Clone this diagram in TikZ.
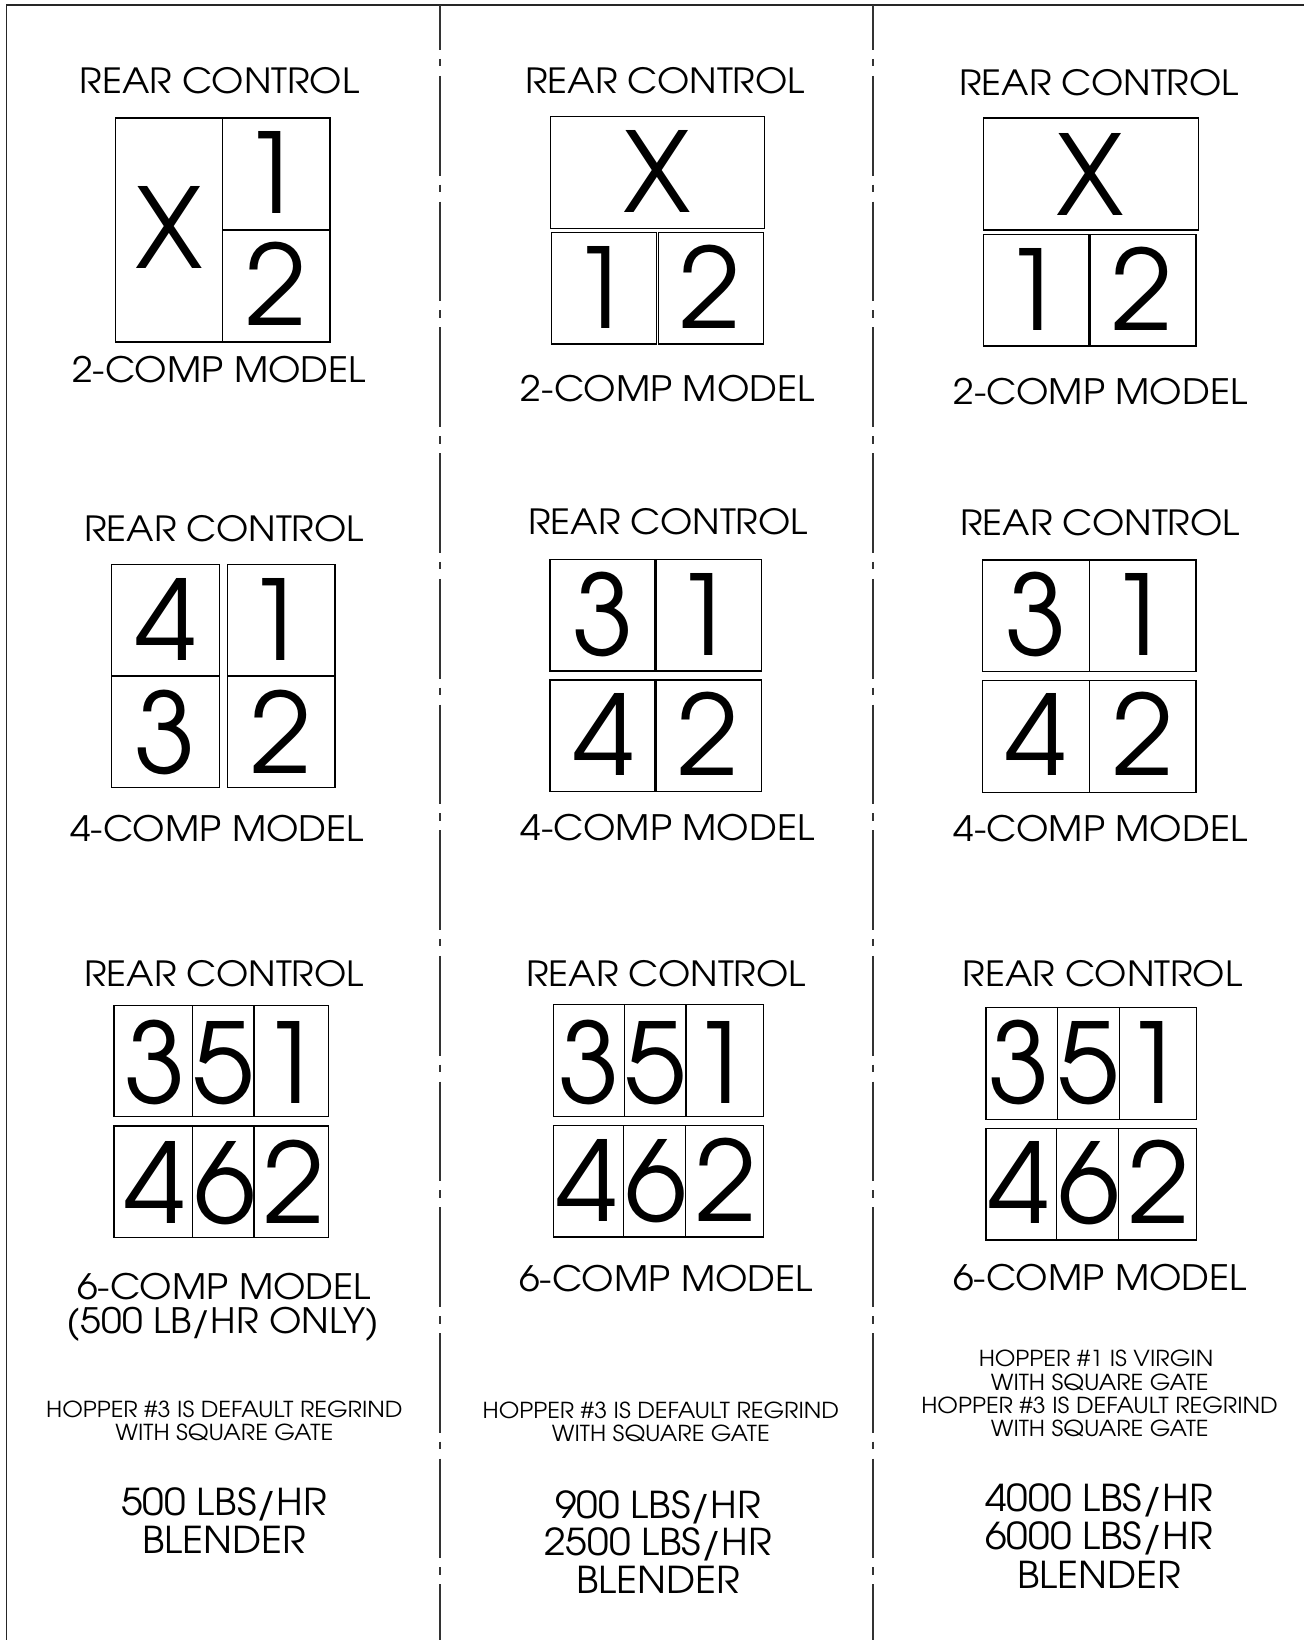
\documentclass[tikz,border=0pt]{standalone}
\usepackage{fontspec}
\usepackage{graphicx}
\IfFontExistsTF{TeX Gyre Adventor}{%
  \setmainfont{TeX Gyre Adventor}%
  \def\sxa{1.07}\def\sxm{1.066}\def\sxs{1.075}\def\sxb{1.055}\def\digsz{111}}{%
  \IfFontExistsTF{Poppins Light}{\setmainfont{Poppins Light}}{\setmainfont{Poppins}}%
  \def\sxa{1.10}\def\sxm{1.095}\def\sxs{1.06}\def\sxb{1.0}\def\digsz{115}}
\newcommand{\wa}[1]{\scalebox{\sxa}[1]{#1}}
\newcommand{\wm}[1]{\scalebox{\sxm}[1]{#1}}
\newcommand{\ws}[1]{\scalebox{\sxs}[1]{#1}}
\newcommand{\wb}[1]{\scalebox{\sxb}[1]{#1}}
\begin{document}
\begin{tikzpicture}[x=1pt,y=-1pt,
  lbl/.style={inner sep=0pt, anchor=base, font=\fontsize{34.7}{40}\selectfont},
  mdl/.style={inner sep=0pt, anchor=base, font=\fontsize{35}{40}\selectfont},
  sml/.style={inner sep=0pt, anchor=base, font=\fontsize{22}{24}\selectfont},
  big/.style={inner sep=0pt, anchor=base, font=\fontsize{37}{40}\selectfont},
  dig/.style={inner sep=0pt, anchor=base, font=\fontsize{\digsz}{120}\selectfont},
  cellline/.style={draw=black, line width=1.1pt},
  border/.style={draw=black!85, line width=1.3pt},
  centerline/.style={draw=black!80, line width=1.2pt,
    dash pattern=on 99.7pt off 9pt on 7.5pt off 9.5pt, dash phase=54.7pt}]
\useasboundingbox (0,0) rectangle (1304,1640);
\fill[white] (0,0) rectangle (1304,1640);
% frame
\coordinate (tl) at (6.7,5);
\coordinate (tr) at (1304,5);
\coordinate (bl) at (6.7,1640);
\draw[border] (bl) -- (tl) -- (tr);
\coordinate (d1t) at (440,5);
\coordinate (d1b) at (440,1640);
\coordinate (d2t) at (873,5);
\coordinate (d2b) at (873,1640);
\draw[centerline] (d1t) -- (d1b);
\draw[centerline] (d2t) -- (d2b);

% ---------- Row 1 ----------
% col 1
\node[lbl] (a1t) at (219.5,94) {\wa{REAR CONTROL}};
\draw[cellline] (115.3,118) rectangle (222.3,342);
\draw[cellline] (222.3,118) rectangle (330,230);
\draw[cellline] (222.3,230) rectangle (330,342);
\node[dig] (a1x) at (169,268.3) {X};
\node[dig] (a1d1) at (272,213) {1};
\node[dig] (a1d2) at (276.7,325) {2};
\node[mdl] (a1m) at (219,382) {\wm{2-COMP MODEL}};
% col 2
\node[lbl] (b1t) at (665,94) {\wa{REAR CONTROL}};
\draw[cellline] (550.3,116.7) rectangle (764.3,228.3);
\draw[cellline] (551.3,232.7) rectangle (656.3,344);
\draw[cellline] (658.3,232.7) rectangle (763.3,344);
\node[dig] (b1x) at (657.5,212.3) {X};
\node[dig] (b1d1) at (600.8,328) {1};
\node[dig] (b1d2) at (710,328.3) {2};
\node[mdl] (b1m) at (667.7,401) {\wm{2-COMP MODEL}};
% col 3
\node[lbl] (c1t) at (1099,96) {\wa{REAR CONTROL}};
\draw[cellline] (983.3,118) rectangle (1198.3,230);
\draw[cellline] (983.3,234.3) rectangle (1089,346);
\draw[cellline] (1090.7,234.3) rectangle (1196,346);
\node[dig] (c1x) at (1090.7,215) {X};
\node[dig] (c1d1) at (1032.8,330) {1};
\node[dig] (c1d2) at (1142.5,330) {2};
\node[mdl] (c1m) at (1100.6,404) {\wm{2-COMP MODEL}};

% ---------- Row 2 ----------
% col 1
\node[lbl] (a2t) at (224,541) {\wa{REAR CONTROL}};
\draw[cellline] (111.7,564.7) rectangle (219.3,676);
\draw[cellline] (227.7,564.7) rectangle (335,676);
\draw[cellline] (111.7,676) rectangle (219.3,787.3);
\draw[cellline] (227.7,676) rectangle (335,787.3);
\node[dig] (a2d4) at (165.8,660) {4};
\node[dig] (a2d1) at (276.5,660) {1};
\node[dig] (a2d3) at (165.5,773) {3};
\node[dig] (a2d2) at (281.7,773) {2};
\node[mdl] (a2m) at (217,841) {\wm{4-COMP MODEL}};
% col 2
\node[lbl] (b2t) at (668,534) {\wa{REAR CONTROL}};
\draw[cellline] (550,559.3) rectangle (655,671);
\draw[cellline] (656.5,559.3) rectangle (761.7,671);
\draw[cellline] (550,680) rectangle (655,791.7);
\draw[cellline] (656.5,680) rectangle (761.7,791.7);
\node[dig] (b2d3) at (603.5,655) {3};
\node[dig] (b2d1) at (703.8,655) {1};
\node[dig] (b2d4) at (603.8,775) {4};
\node[dig] (b2d2) at (708.3,775) {2};
\node[mdl] (b2m) at (667.5,840) {\wm{4-COMP MODEL}};
% col 3
\node[lbl] (c2t) at (1100,535) {\wa{REAR CONTROL}};
\draw[cellline] (982.7,560) rectangle (1089.3,671.7);
\draw[cellline] (1089.3,560) rectangle (1196,671.7);
\draw[cellline] (982.7,680.7) rectangle (1089.3,792.3);
\draw[cellline] (1089.3,680.7) rectangle (1196,792.3);
\node[dig] (c2d3) at (1036,655.7) {3};
\node[dig] (c2d1) at (1139,655.7) {1};
\node[dig] (c2d4) at (1036,775.7) {4};
\node[dig] (c2d2) at (1143,775.7) {2};
\node[mdl] (c2m) at (1100.5,841) {\wm{4-COMP MODEL}};

% ---------- Row 3 ----------
% col 1
\node[lbl] (a3t) at (224,986.7) {\wa{REAR CONTROL}};
\draw[cellline] (114,1005.7) rectangle (192.3,1116.7);
\draw[cellline] (192.3,1005.7) rectangle (254,1116.7);
\draw[cellline] (254,1005.7) rectangle (328.3,1116.7);
\draw[cellline] (114,1126) rectangle (192.3,1237.7);
\draw[cellline] (192.3,1126) rectangle (254,1237.7);
\draw[cellline] (254,1126) rectangle (328.3,1237.7);
\node[dig] (a3d3) at (155,1103) {3};
\node[dig] (a3d5) at (223.7,1103) {5};
\node[dig] (a3d1) at (291,1103) {1};
\node[dig] (a3d4) at (155,1223) {4};
\node[dig] (a3d6) at (225,1223) {6};
\node[dig] (a3d2) at (294,1223) {2};
\node[mdl] (a3m) at (224,1299.3) {\wm{6-COMP MODEL}};
\node[mdl] (a3o) at (223,1333) {\wm{(500 LB/HR ONLY)}};
\node[sml] (a3h1) at (224.3,1417.3) {\ws{HOPPER \#3 IS DEFAULT REGRIND}};
\node[sml] (a3h2) at (224.3,1440) {\ws{WITH SQUARE GATE}};
\node[big] (a3b1) at (224,1515.7) {\wb{500 LBS/HR}};
\node[big] (a3b2) at (224,1553.3) {\wb{BLENDER}};
% col 2
\node[lbl] (b3t) at (666,986) {\wa{REAR CONTROL}};
\draw[cellline] (553.3,1004.3) rectangle (624.3,1116.7);
\draw[cellline] (624.3,1004.3) rectangle (686,1116.7);
\draw[cellline] (686,1004.3) rectangle (763.3,1116.7);
\draw[cellline] (553.3,1125.3) rectangle (623.7,1237);
\draw[cellline] (623.7,1125.3) rectangle (685.3,1237);
\draw[cellline] (685.3,1125.3) rectangle (763.3,1237);
\node[dig] (b3d3) at (589.3,1103.3) {3};
\node[dig] (b3d5) at (655.3,1103.3) {5};
\node[dig] (b3d1) at (721.7,1103.3) {1};
\node[dig] (b3d4) at (586.8,1221) {4};
\node[dig] (b3d6) at (655.8,1221) {6};
\node[dig] (b3d2) at (726,1221) {2};
\node[mdl] (b3m) at (666,1291) {\wm{6-COMP MODEL}};
\node[sml] (b3h1) at (660.8,1418.5) {\ws{HOPPER \#3 IS DEFAULT REGRIND}};
\node[sml] (b3h2) at (660.8,1441.5) {\ws{WITH SQUARE GATE}};
\node[big] (b3b1) at (658,1518) {\wb{900 LBS/HR}};
\node[big] (b3b2) at (658,1555) {\wb{2500 LBS/HR}};
\node[big] (b3b3) at (658,1593) {\wb{BLENDER}};
% col 3
\node[lbl] (c3t) at (1102.5,986) {\wa{REAR CONTROL}};
\draw[cellline] (986,1007.7) rectangle (1057.7,1119.3);
\draw[cellline] (1057.7,1007.7) rectangle (1119.3,1119.3);
\draw[cellline] (1119.3,1007.7) rectangle (1196.7,1119.3);
\draw[cellline] (986,1128.7) rectangle (1056.7,1240);
\draw[cellline] (1056.7,1128.7) rectangle (1118.3,1240);
\draw[cellline] (1118.3,1128.7) rectangle (1196.7,1240);
\node[dig] (c3d3) at (1019.5,1103.3) {3};
\node[dig] (c3d5) at (1088,1103.3) {5};
\node[dig] (c3d1) at (1154,1103.3) {1};
\node[dig] (c3d4) at (1019.5,1223.3) {4};
\node[dig] (c3d6) at (1089,1223.3) {6};
\node[dig] (c3d2) at (1158.8,1223.3) {2};
\node[mdl] (c3m) at (1100,1290) {\wm{6-COMP MODEL}};
\node[sml] (c3h1) at (1096,1366.7) {\ws{HOPPER \#1 IS VIRGIN}};
\node[sml] (c3h2) at (1099.7,1390.7) {\ws{WITH SQUARE GATE}};
\node[sml] (c3h3) at (1099.5,1413.3) {\ws{HOPPER \#3 IS DEFAULT REGRIND}};
\node[sml] (c3h4) at (1099.7,1436.7) {\ws{WITH SQUARE GATE}};
\node[big] (c3b1) at (1099,1511.7) {\wb{4000 LBS/HR}};
\node[big] (c3b2) at (1099,1549.3) {\wb{6000 LBS/HR}};
\node[big] (c3b3) at (1099,1588.3) {\wb{BLENDER}};
\end{tikzpicture}
\end{document}
